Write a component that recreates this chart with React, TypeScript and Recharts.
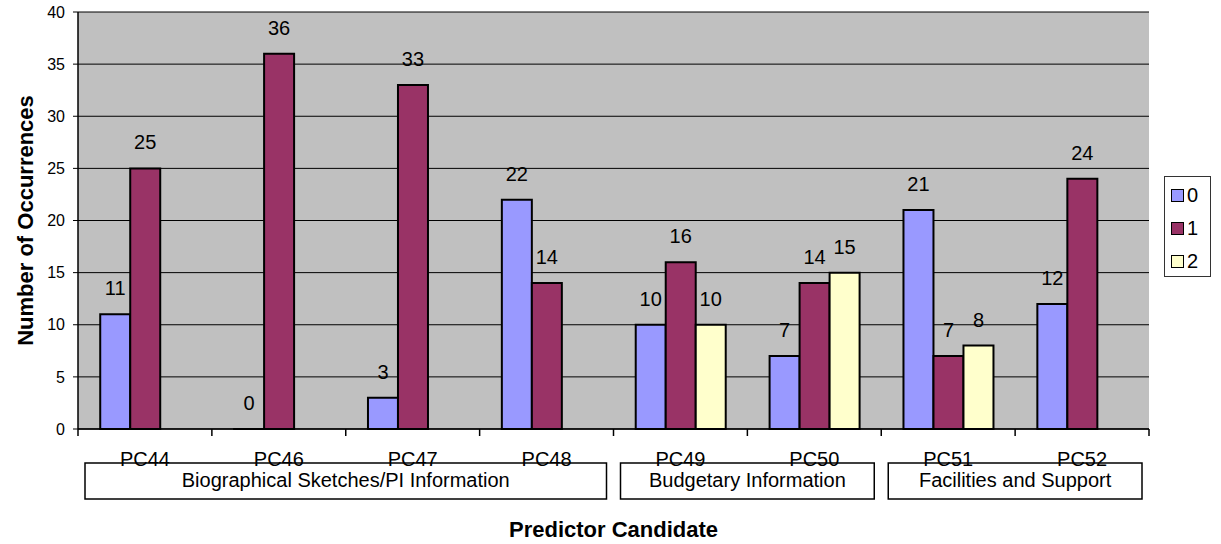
import React from 'react';
import { BarChart, Bar, XAxis, YAxis, CartesianGrid, LabelList, Legend } from 'recharts';

const candidates = ['PC44', 'PC46', 'PC47', 'PC48', 'PC49', 'PC50', 'PC51', 'PC52'];
const candidateGroups = [
  'Biographical Sketches/PI Information',
  'Biographical Sketches/PI Information',
  'Biographical Sketches/PI Information',
  'Biographical Sketches/PI Information',
  'Budgetary Information',
  'Budgetary Information',
  'Facilities and Support',
  'Facilities and Support',
];
const series0 = [11, 0, 3, 22, 10, 7, 21, 12];
const series1 = [25, 36, 33, 14, 16, 14, 7, 24];
const series2 = [null, null, null, null, 10, 15, 8, null];
const yTicks = [0, 5, 10, 15, 20, 25, 30, 35, 40];

const seriesNames = ['0', '1', '2'];
const seriesColors = ['#9999FF', '#993366', '#FFFFCC'];

const data = candidates.map((name, i) => ({
  name,
  s0: series0[i],
  s1: series1[i],
  s2: series2[i],
}));

const FONT = 'Arial, "Liberation Sans", sans-serif';

function CategoryTick(props: any) {
  const { x, y, payload, index } = props;
  const half = payload.offset ?? 67;
  const band = half * 2;
  const left = x - half;
  const group = candidateGroups[index];
  const isFirst = index === 0 || candidateGroups[index - 1] !== group;
  const isLast = index === candidates.length - 1;

  let box = null;
  if (isFirst) {
    let n = 0;
    while (candidateGroups[index + n] === group) n++;
    box = (
      <g>
        <rect x={left + 7} y={y + 34} width={n * band - 14} height={36} fill="none" stroke="#000" strokeWidth={1.5} />
        <text x={left + (n * band) / 2} y={y + 58} textAnchor="middle" fontSize={20} fill="#000">
          {group}
        </text>
      </g>
    );
  }

  return (
    <g>
      <line x1={left} x2={left} y1={y} y2={y + 7} stroke="#000" strokeWidth={1.5} />
      {isLast && <line x1={left + band} x2={left + band} y1={y} y2={y + 7} stroke="#000" strokeWidth={1.5} />}
      {box}
      <text x={x} y={y + 37} textAnchor="middle" fontSize={20} fill="#000">
        {payload.value}
      </text>
    </g>
  );
}

function LegendBox() {
  return (
    <div
      style={{
        width: 45,
        height: 99,
        border: '1px solid #333',
        background: '#fff',
        fontFamily: FONT,
        fontSize: 20,
        position: 'relative',
      }}
    >
      {seriesNames.map((n, i) => (
        <div key={n} style={{ position: 'absolute', left: 6, top: 6 + i * 33, height: 24, display: 'flex', alignItems: 'center' }}>
          <span
            style={{
              display: 'inline-block',
              width: 11,
              height: 11,
              background: seriesColors[i],
              border: '1.5px solid #000',
              marginRight: 3,
            }}
          />
          <span style={{ color: '#000' }}>{n}</span>
        </div>
      ))}
    </div>
  );
}

// zero-valued bars get a hairline so their "0" label is still drawn
const zeroPoint = (v: number) => (v === 0 ? 0.01 : 0);

export default function App() {
  return (
    <div style={{ position: 'absolute', left: 0, top: 0, background: '#fff' }}>
      <BarChart
        width={1221}
        height={544}
        data={data}
        margin={{ top: 12, right: 72, left: 0, bottom: 0 }}
        barCategoryGap="16.6%"
        barGap={0}
        style={{ fontFamily: FONT }}
      >
        <CartesianGrid vertical={false} stroke="#000" strokeWidth={1} fill="#C0C0C0" fillOpacity={1} />
        <XAxis
          dataKey="name"
          height={115}
          interval={0}
          tickSize={0}
          tickMargin={0}
          tickLine={false}
          axisLine={{ stroke: '#000', strokeWidth: 1.5 }}
          tick={<CategoryTick />}
          label={{
            content: (p: any) => {
              const vb = p.viewBox;
              return (
                <text x={vb.x + vb.width / 2} y={537} textAnchor="middle" fontWeight="bold" fontSize={22} fill="#000">
                  Predictor Candidate
                </text>
              );
            },
          }}
        />
        <XAxis xAxisId="top" dataKey="name" orientation="top" height={0} tick={false} tickLine={false} axisLine={{ stroke: '#808080', strokeWidth: 2 }} />
        <YAxis
          width={78}
          domain={[0, 40]}
          ticks={yTicks}
          interval={0}
          tickSize={5}
          tickMargin={8}
          tick={{ fontSize: 16, fill: '#000' }}
          tickLine={{ stroke: '#000' }}
          axisLine={{ stroke: '#000', strokeWidth: 1.5 }}
          label={{
            content: (p: any) => {
              const vb = p.viewBox;
              const cy = vb.y + vb.height / 2;
              return (
                <text transform={`translate(33, ${cy}) rotate(-90)`} textAnchor="middle" fontWeight="bold" fontSize={22} fill="#000">
                  Number of Occurrences
                </text>
              );
            },
          }}
        />
        <YAxis yAxisId="right" orientation="right" width={0} domain={[0, 40]} tick={false} tickLine={false} axisLine={{ stroke: '#808080', strokeWidth: 2 }} />
        <Legend
          layout="vertical"
          align="center"
          verticalAlign="middle"
          content={<LegendBox />}
          wrapperStyle={{ left: 1164, top: 176, width: 47, height: 101 }}
        />
        <Bar dataKey="s0" name={seriesNames[0]} fill={seriesColors[0]} stroke="#000" strokeWidth={2} minPointSize={zeroPoint} isAnimationActive={false}>
          <LabelList dataKey="s0" position="top" offset={19} fontSize={20} fill="#000" />
        </Bar>
        <Bar dataKey="s1" name={seriesNames[1]} fill={seriesColors[1]} stroke="#000" strokeWidth={2} isAnimationActive={false}>
          <LabelList dataKey="s1" position="top" offset={19} fontSize={20} fill="#000" />
        </Bar>
        <Bar dataKey="s2" name={seriesNames[2]} fill={seriesColors[2]} stroke="#000" strokeWidth={2} isAnimationActive={false}>
          <LabelList dataKey="s2" position="top" offset={19} fontSize={20} fill="#000" />
        </Bar>
      </BarChart>
    </div>
  );
}
